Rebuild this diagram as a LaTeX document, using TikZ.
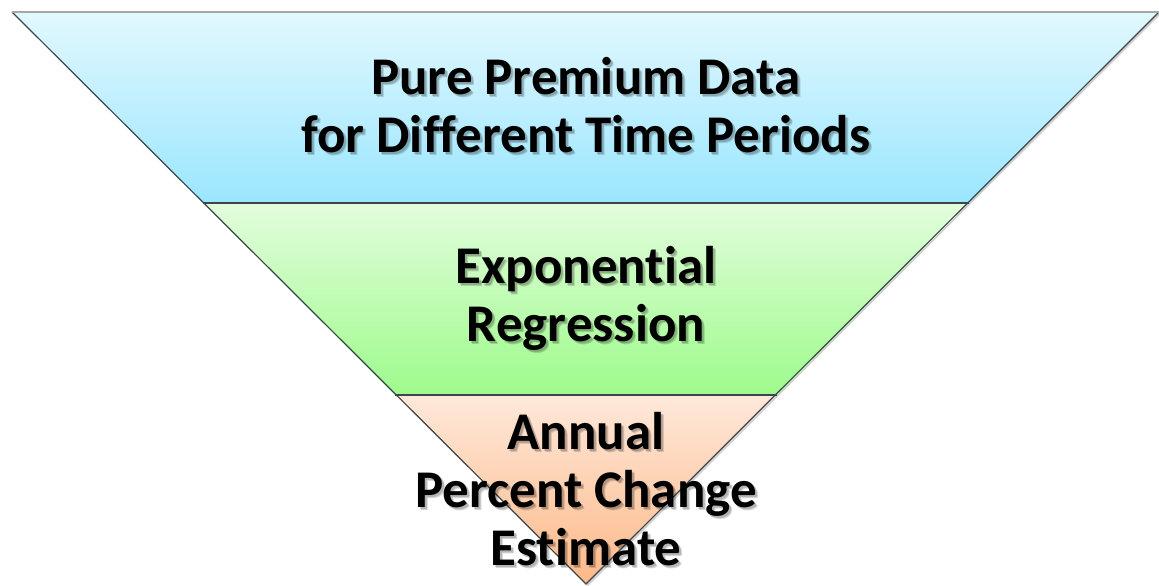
\documentclass[tikz,border=0pt]{standalone}
\usepackage{fontspec}
\setmainfont[Ligatures=CommonOff]{Carlito}
\usetikzlibrary{calc}
\definecolor{blueT}{HTML}{E2F8FE}
\definecolor{blueB}{HTML}{9AE6FE}
\definecolor{greenT}{HTML}{E2FDDC}
\definecolor{greenB}{HTML}{9EFB8C}
\definecolor{orT}{HTML}{FEE8DA}
\definecolor{orB}{HTML}{FDB988}
\definecolor{edge}{HTML}{3C464C}
\tikzset{
  band/.style={draw=edge, line width=1.2pt, line join=miter},
  bandshadow/.style={fill=black, opacity=0.18},
  lbl/.style={font=\fontsize{53}{58}\selectfont\bfseries, align=center, text=black, inner sep=0pt},
  lblshadow/.style={lbl, text=black, opacity=0.16},
}
\newcommand{\shadowtext}[3]{%
  \node[lblshadow] at ($(#1)+(3,-3)$) {#3};
  \node[lblshadow] at ($(#1)+(2,-2)$) {#3};
  \node[lbl] (#2) at (#1) {#3};
}
\begin{document}
\begin{tikzpicture}[x=1pt,y=1pt]
\useasboundingbox (0,0) rectangle (1159,586);
% corner coordinates (y = 586 - pixel row)
\coordinate (TL) at (12,574);
\coordinate (TR) at (1159,574);
\coordinate (B1L) at (203,383);
\coordinate (B1R) at (969,383);
\coordinate (B2L) at (395,191);
\coordinate (B2R) at (777,191);
\coordinate (AP) at (586,2);
% outer shadow
\fill[bandshadow] ($(TL)+(2,-2)$) -- ($(TR)+(2,-2)$) -- ($(AP)+(2,-2)$) -- cycle;
% bands
\shade[top color=blueT, bottom color=blueB] (TL) -- (TR) -- (B1R) -- (B1L) -- cycle;
\shade[top color=greenT, bottom color=greenB] (B1L) -- (B1R) -- (B2R) -- (B2L) -- cycle;
\shade[top color=orT, bottom color=orB] (B2L) -- (B2R) -- (AP) -- cycle;
\draw[band] (TL) -- (AP) -- (TR);
\draw[band] (B1L) -- (B1R);
\draw[band] (B2L) -- (B2R);
\draw[draw=black!35, line width=1.8pt] (TL) -- (TR);
% labels
\coordinate (c1) at (586,481);
\coordinate (c2) at (586,288);
\coordinate (c3) at (586,97);
\shadowtext{c1}{t1}{Pure Premium Data\\for Different Time Periods}
\shadowtext{c2}{t2}{Exponential\\Regression}
\shadowtext{c3}{t3}{Annual\\Percent Change\\Estimate}
\end{tikzpicture}
\end{document}
